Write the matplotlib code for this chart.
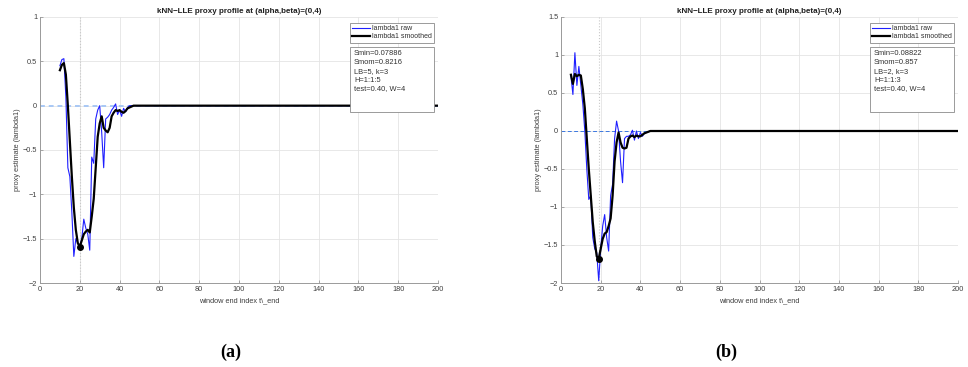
import numpy as np
import matplotlib
matplotlib.use("Agg")
import matplotlib.pyplot as plt
from matplotlib.patches import Rectangle

plt.rcParams['font.family'] = ['Liberation Sans', 'DejaVu Sans']

title = "kNN\u2212LLE proxy profile at (alpha,beta)=(0,4)"
xlabel = "window end index t\\_end"
ylabel = "proxy estimate (lambda1)"

# Panel (a)
a_start = 10
a_raw = [0.45, 0.52, 0.53, 0.10, -0.70, -0.80, -1.20, -1.70, -1.50, -1.55,
         -1.60, -1.50, -1.28, -1.38, -1.45, -1.63, -0.58, -0.65, -0.15, -0.05,
         0.00, -0.30, -0.70, -0.15, -0.13, -0.10, -0.05, -0.02, 0.02, -0.10,
         -0.05, -0.12, -0.03, -0.07, -0.02, 0.00, 0.00]
a_smooth = [0.40, 0.46, 0.48, 0.35, 0.00, -0.40, -0.80, -1.15, -1.40, -1.55,
            -1.59, -1.52, -1.45, -1.42, -1.40, -1.43, -1.25, -1.05, -0.70, -0.35,
            -0.20, -0.12, -0.25, -0.28, -0.30, -0.25, -0.12, -0.08, -0.05, -0.06,
            -0.05, -0.07, -0.08, -0.06, -0.03, -0.02, -0.01]
a_min = (20, -1.59)
a_info = ["Smin=0.07886", "Smom=0.8216", "LB=5, k=3", "H=1:1:5", "test=0.40, W=4"]
a_yticks = [-2, -1.5, -1, -0.5, 0, 0.5, 1]

# Panel (b)
b_start = 5
b_raw = [0.72, 0.48, 1.03, 0.60, 0.85, 0.60, 0.35, 0.00, -0.50, -0.90,
         -0.85, -1.40, -1.55, -1.60, -1.97, -1.55, -1.25, -1.10, -1.40, -1.58,
         -0.85, -0.70, -0.10, 0.13, 0.00, -0.40, -0.68, -0.10, -0.07, -0.07,
         -0.05, 0.01, -0.12, 0.00, -0.10, -0.02, -0.07, -0.03, -0.02, -0.01, 0.00]
b_smooth = [0.74, 0.62, 0.75, 0.72, 0.74, 0.73, 0.55, 0.30, -0.10, -0.50,
            -0.85, -1.20, -1.45, -1.65, -1.68, -1.55, -1.42, -1.35, -1.33, -1.25,
            -1.15, -0.85, -0.40, -0.15, -0.02, -0.15, -0.22, -0.23, -0.22, -0.10,
            -0.07, -0.06, -0.08, -0.06, -0.07, -0.07, -0.05, -0.03, -0.02, -0.01, 0.00]
b_min = (19, -1.68)
b_info = ["Smin=0.08822", "Smom=0.857", "LB=2, k=3", "H=1:1:3", "test=0.40, W=4"]
b_yticks = [-2, -1.5, -1, -0.5, 0, 0.5, 1, 1.5]

x_end = 200
xticks = list(range(0, 201, 20))

W, H = 968, 367
fig = plt.figure(figsize=(W / 100, H / 100), dpi=100)

def build(left_px, right_px, start, raw, smooth, mn, info, yticks, zero_style, letter, letter_x):
    ax = fig.add_axes([left_px / W, 1 - 283 / H, (right_px - left_px) / W, 266 / H])
    n_raw = len(raw)
    raw_full = np.concatenate([raw, np.zeros(x_end - (start + n_raw) + 1)])
    sm_full = np.concatenate([smooth, np.zeros(x_end - (start + len(smooth)) + 1)])
    xr = np.arange(start, x_end + 1)
    ax.axhline(0, **zero_style, zorder=1)
    ax.axvline(mn[0], color='#c8c8c8', lw=0.8, ls=':', zorder=1)
    l1, = ax.plot(xr, raw_full, color='#1f1fff', lw=0.8, zorder=3, label='lambda1 raw')
    l2, = ax.plot(xr, sm_full, color='black', lw=1.6, zorder=4, label='lambda1 smoothed')
    ax.plot([mn[0]], [mn[1]], 'o', color='black', ms=4, zorder=5)
    ax.set_xlim(0, x_end)
    ax.set_ylim(yticks[0], yticks[-1])
    ax.set_xticks(xticks)
    ax.set_yticks(yticks)
    ax.set_yticklabels([("%g" % t).replace('-', '\u2212') for t in yticks])
    ax.grid(True, color='#e4e4e4', lw=0.6)
    ax.set_axisbelow(True)
    for s in ['top', 'right']:
        ax.spines[s].set_visible(False)
    for s in ['left', 'bottom']:
        ax.spines[s].set_color('#9a9a9a')
        ax.spines[s].set_linewidth(0.7)
    ax.tick_params(direction='in', length=2.5, width=0.6, color='#9a9a9a',
                   labelsize=5.3, labelcolor='#404040', pad=2)
    ax.set_title(title, fontsize=5.8, fontweight='bold', pad=3, color='#202020')
    ax.set_xlabel(xlabel, fontsize=5.3, color='#404040', labelpad=3)
    ax.set_ylabel(ylabel, fontsize=5.3, color='#404040', labelpad=1)
    w = right_px - left_px
    leg = ax.legend(handles=[l1, l2], loc='upper right', fontsize=5.0,
                    bbox_to_anchor=((right_px - 4 - left_px) / w, 1 - 6 / 266),
                    frameon=True, fancybox=False, framealpha=1, edgecolor='#8a8a8a',
                    borderpad=0.3, handlelength=2.6, handletextpad=0.3, labelspacing=0.2,
                    borderaxespad=0)
    leg.get_frame().set_linewidth(0.6)
    for t in leg.get_texts():
        t.set_color('#303030')
    bx0 = (right_px - 88 - left_px) / w
    bx1 = (right_px - 4 - left_px) / w
    by0 = (283 - 112) / 266
    by1 = (283 - 47) / 266
    ax.add_patch(Rectangle((bx0, by0), bx1 - bx0, by1 - by0, transform=ax.transAxes,
                           facecolor='white', edgecolor='#8a8a8a', lw=0.6, zorder=6))
    for i, line in enumerate(info):
        ypx = 54 + 8.7 * i
        ax.text(bx0 + 4 / w, (283 - ypx) / 266, line, transform=ax.transAxes,
                va='center', ha='left', fontsize=5.4, color='#303030', zorder=7)
    fig.text(letter_x / W, 1 - 352 / H, letter, ha='center', va='center',
             fontsize=13, fontweight='bold', family=['Liberation Serif', 'DejaVu Serif'])
    return ax

build(40, 438, a_start, a_raw, a_smooth, a_min, a_info, a_yticks,
      dict(color='#a8c8f5', lw=1.4, ls=(0, (2.5, 2))), "(a)", 231)
build(561, 958, b_start, b_raw, b_smooth, b_min, b_info, b_yticks,
      dict(color='#3c78e0', lw=0.7, ls=(0, (4, 2.5))), "(b)", 726)

fig.savefig("out.png", dpi=100)
